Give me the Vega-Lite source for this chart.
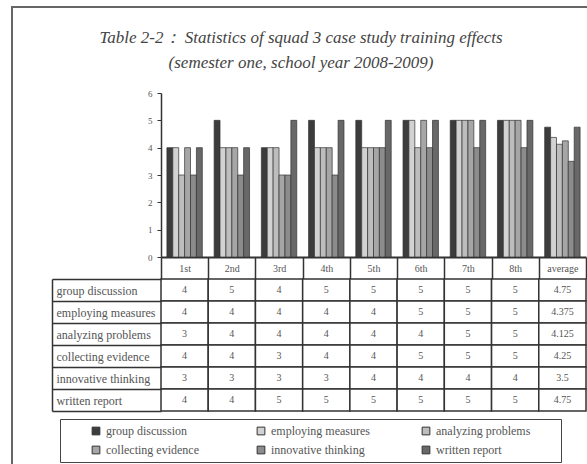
{
  "$schema": "https://vega.github.io/schema/vega-lite/v6.json",
  "width": 578,
  "height": 460,
  "autosize": {"type": "none"},
  "padding": {"left": 12, "top": 7, "right": -3, "bottom": -3},
  "background": "white",
  "config": {
    "view": {"stroke": "#666", "strokeWidth": 2},
    "font": "Liberation Serif"
  },
  "title": {
    "text": ["Table 2-2： Statistics of squad 3 case study training effects", "(semester one, school year 2008-2009)"],
    "font": "Liberation Serif",
    "fontStyle": "italic",
    "fontWeight": "normal",
    "fontSize": 17,
    "color": "#444",
    "anchor": "middle",
    "frame": "group",
    "baseline": "top",
    "offset": -23,
    "dy": 48,
    "lineHeight": 25
  },
  "data": {
    "values": [
      {"metric": "group discussion", "period": "1st", "value": 4},
      {"metric": "group discussion", "period": "2nd", "value": 5},
      {"metric": "group discussion", "period": "3rd", "value": 4},
      {"metric": "group discussion", "period": "4th", "value": 5},
      {"metric": "group discussion", "period": "5th", "value": 5},
      {"metric": "group discussion", "period": "6th", "value": 5},
      {"metric": "group discussion", "period": "7th", "value": 5},
      {"metric": "group discussion", "period": "8th", "value": 5},
      {"metric": "group discussion", "period": "average", "value": 4.75},
      {"metric": "employing measures", "period": "1st", "value": 4},
      {"metric": "employing measures", "period": "2nd", "value": 4},
      {"metric": "employing measures", "period": "3rd", "value": 4},
      {"metric": "employing measures", "period": "4th", "value": 4},
      {"metric": "employing measures", "period": "5th", "value": 4},
      {"metric": "employing measures", "period": "6th", "value": 5},
      {"metric": "employing measures", "period": "7th", "value": 5},
      {"metric": "employing measures", "period": "8th", "value": 5},
      {"metric": "employing measures", "period": "average", "value": 4.375},
      {"metric": "analyzing problems", "period": "1st", "value": 3},
      {"metric": "analyzing problems", "period": "2nd", "value": 4},
      {"metric": "analyzing problems", "period": "3rd", "value": 4},
      {"metric": "analyzing problems", "period": "4th", "value": 4},
      {"metric": "analyzing problems", "period": "5th", "value": 4},
      {"metric": "analyzing problems", "period": "6th", "value": 4},
      {"metric": "analyzing problems", "period": "7th", "value": 5},
      {"metric": "analyzing problems", "period": "8th", "value": 5},
      {"metric": "analyzing problems", "period": "average", "value": 4.125},
      {"metric": "collecting evidence", "period": "1st", "value": 4},
      {"metric": "collecting evidence", "period": "2nd", "value": 4},
      {"metric": "collecting evidence", "period": "3rd", "value": 3},
      {"metric": "collecting evidence", "period": "4th", "value": 4},
      {"metric": "collecting evidence", "period": "5th", "value": 4},
      {"metric": "collecting evidence", "period": "6th", "value": 5},
      {"metric": "collecting evidence", "period": "7th", "value": 5},
      {"metric": "collecting evidence", "period": "8th", "value": 5},
      {"metric": "collecting evidence", "period": "average", "value": 4.25},
      {"metric": "innovative thinking", "period": "1st", "value": 3},
      {"metric": "innovative thinking", "period": "2nd", "value": 3},
      {"metric": "innovative thinking", "period": "3rd", "value": 3},
      {"metric": "innovative thinking", "period": "4th", "value": 3},
      {"metric": "innovative thinking", "period": "5th", "value": 4},
      {"metric": "innovative thinking", "period": "6th", "value": 4},
      {"metric": "innovative thinking", "period": "7th", "value": 4},
      {"metric": "innovative thinking", "period": "8th", "value": 4},
      {"metric": "innovative thinking", "period": "average", "value": 3.5},
      {"metric": "written report", "period": "1st", "value": 4},
      {"metric": "written report", "period": "2nd", "value": 4},
      {"metric": "written report", "period": "3rd", "value": 5},
      {"metric": "written report", "period": "4th", "value": 5},
      {"metric": "written report", "period": "5th", "value": 5},
      {"metric": "written report", "period": "6th", "value": 5},
      {"metric": "written report", "period": "7th", "value": 5},
      {"metric": "written report", "period": "8th", "value": 5},
      {"metric": "written report", "period": "average", "value": 4.75}
    ]
  },
  "resolve": {"scale": {"x": "independent", "y": "independent"}},
  "layer": [
    {
      "mark": {"type": "bar", "stroke": "#333", "strokeWidth": 0.7},
      "encoding": {
        "x": {
          "field": "period", "type": "nominal",
          "sort": ["1st", "2nd", "3rd", "4th", "5th", "6th", "7th", "8th", "average"],
          "scale": {"range": [149, 574], "paddingInner": 0, "paddingOuter": 0},
          "axis": {
            "orient": "bottom", "offset": -210, "title": null,
            "domain": true, "domainColor": "#333", "domainWidth": 2,
            "ticks": true, "tickBand": "extent", "tickSize": 22, "tickColor": "#333", "tickWidth": 1.5,
            "labelAngle": 0, "labelBaseline": "top", "labelPadding": -16,
            "labelFont": "Liberation Serif", "labelFontSize": 10, "labelColor": "#555", "grid": false
          }
        },
        "xOffset": {
          "field": "metric", "type": "nominal",
          "sort": ["group discussion", "employing measures", "analyzing problems", "collecting evidence", "innovative thinking", "written report"],
          "scale": {"paddingOuter": 1, "paddingInner": 0}
        },
        "y": {
          "field": "value", "type": "quantitative",
          "scale": {"domain": [0, 6], "range": [250, 86], "nice": false, "zero": true},
          "axis": {
            "orient": "left", "offset": -149, "title": null, "values": [0, 1, 2, 3, 4, 5, 6],
            "domain": true, "domainColor": "#333", "domainWidth": 1.5,
            "ticks": true, "tickSize": 4, "tickColor": "#333",
            "labelPadding": 5, "labelFont": "Liberation Serif", "labelFontSize": 9, "labelColor": "#555", "grid": false
          }
        },
        "color": {
          "field": "metric", "type": "nominal",
          "sort": ["group discussion", "employing measures", "analyzing problems", "collecting evidence", "innovative thinking", "written report"],
          "scale": {"range": ["#3c3c3c", "#d2d2d2", "#bdbdbd", "#a6a6a6", "#8c8c8c", "#686868"]},
          "legend": {
            "orient": "none", "legendX": 48, "legendY": 412,
            "direction": "horizontal", "columns": 3, "gridAlign": "all",
            "title": "\u200b\u2003\u200b", "titleOrient": "left", "titleFontSize": 10, "titlePadding": 14,
            "strokeColor": "#444", "padding": 6,
            "symbolType": "square", "symbolSize": 60, "symbolStrokeColor": "#333", "symbolStrokeWidth": 1,
            "labelFont": "Liberation Serif", "labelFontSize": 12, "labelColor": "#555",
            "labelExpr": "datum.label + '\u2003\u2003\u200b'",
            "columnPadding": 26, "rowPadding": 7, "labelLimit": 300
          }
        }
      }
    },
    {
      "mark": {"type": "rect", "fill": "white", "stroke": "#333", "strokeWidth": 1.5},
      "encoding": {
        "x": {
          "field": "period", "type": "nominal",
          "sort": ["1st", "2nd", "3rd", "4th", "5th", "6th", "7th", "8th", "average"],
          "scale": {"range": [149, 574], "paddingInner": 0, "paddingOuter": 0},
          "axis": null
        },
        "y": {
          "field": "metric", "type": "nominal",
          "sort": ["group discussion", "employing measures", "analyzing problems", "collecting evidence", "innovative thinking", "written report"],
          "scale": {"range": [272, 404], "paddingInner": 0, "paddingOuter": 0},
          "axis": {
            "orient": "left", "offset": -40, "title": null,
            "domain": true, "domainColor": "#333", "domainWidth": 1.5,
            "ticks": true, "tickBand": "extent", "tickSize": -109, "tickColor": "#333", "tickWidth": 1.5,
            "labelAlign": "left", "labelPadding": 105, "labelLimit": 200,
            "labelFont": "Liberation Serif", "labelFontSize": 12, "labelColor": "#555", "grid": false
          }
        }
      }
    },
    {
      "mark": {"type": "text", "font": "Liberation Serif", "fontSize": 10, "color": "#555"},
      "encoding": {
        "x": {
          "field": "period", "type": "nominal",
          "sort": ["1st", "2nd", "3rd", "4th", "5th", "6th", "7th", "8th", "average"],
          "scale": {"range": [149, 574], "paddingInner": 0, "paddingOuter": 0},
          "axis": null
        },
        "y": {
          "field": "metric", "type": "nominal",
          "sort": ["group discussion", "employing measures", "analyzing problems", "collecting evidence", "innovative thinking", "written report"],
          "scale": {"range": [272, 404], "paddingInner": 0, "paddingOuter": 0},
          "axis": null
        },
        "text": {"field": "value", "type": "nominal"}
      }
    }
  ]
}
